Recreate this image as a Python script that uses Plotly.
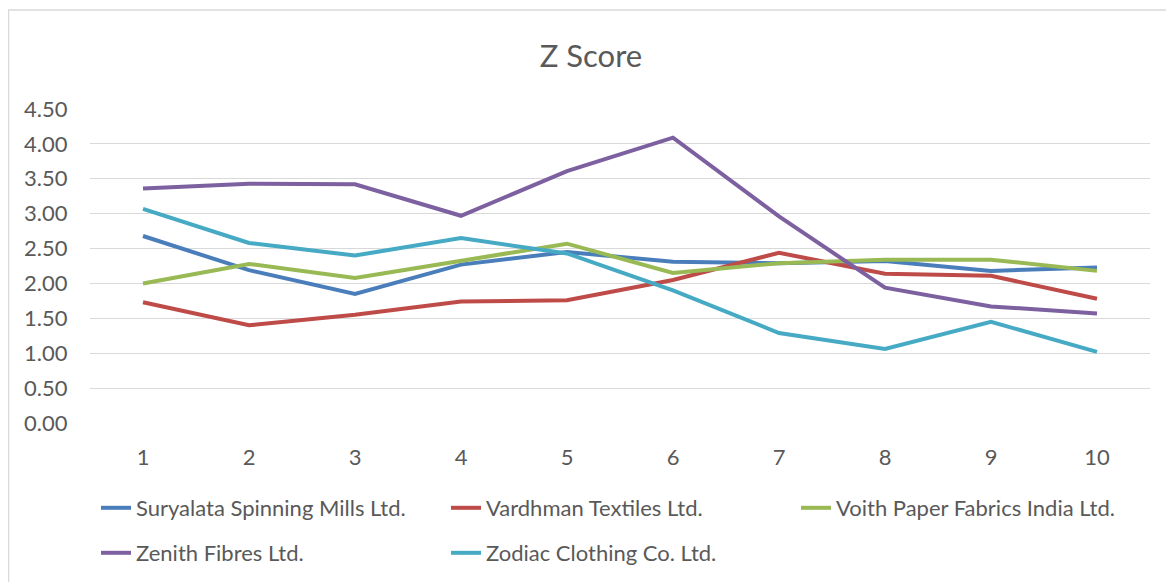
import plotly.graph_objects as go

periods = [1, 2, 3, 4, 5, 6, 7, 8, 9, 10]
suryalata = [2.68, 2.19, 1.85, 2.27, 2.45, 2.31, 2.29, 2.32, 2.18, 2.23]
vardhman = [1.73, 1.40, 1.55, 1.74, 1.76, 2.05, 2.44, 2.14, 2.11, 1.78]
voith = [2.00, 2.28, 2.08, 2.32, 2.57, 2.15, 2.29, 2.34, 2.34, 2.18]
zenith = [3.36, 3.43, 3.42, 2.97, 3.61, 4.09, 2.96, 1.94, 1.67, 1.57]
zodiac = [3.07, 2.58, 2.40, 2.65, 2.43, 1.90, 1.29, 1.06, 1.45, 1.02]

names = ["Suryalata Spinning Mills Ltd.", "Vardhman Textiles Ltd.",
         "Voith Paper Fabrics India Ltd.", "Zenith Fibres Ltd.", "Zodiac Clothing Co. Ltd."]
series = [suryalata, vardhman, voith, zenith, zodiac]
colors = ["#4A7EBB", "#BE4B48", "#98B954", "#7D60A0", "#46AAC5"]
legend_ids = ["legend", "legend", "legend", "legend2", "legend2"]
y_ticks = [0, 0.5, 1, 1.5, 2, 2.5, 3, 3.5, 4, 4.5]

FONT = "Lato"
TXT = "#595959"

# page body has an 8px margin; figure is placed at (8, 8)
W, H = 1166, 574
L, R, T, B = 82, 24, 101, 159
PW, PH = W - L - R, H - T - B  # 1060 x 314

def px_x(x):  # screenshot pixel -> paper x
    return (x - 8 - L) / PW

def px_y(y):  # screenshot pixel -> paper y
    return (T + PH - (y - 8)) / PH

fig = go.Figure()
for name, vals, col, lg in zip(names, series, colors, legend_ids):
    fig.add_trace(go.Scatter(x=periods, y=vals, name=name, mode="lines",
                             line=dict(color=col, width=4), legend=lg))

leg_common = dict(orientation="h", entrywidthmode="pixels", entrywidth=305,
                  font=dict(family=FONT, size=22, color=TXT),
                  bgcolor="rgba(0,0,0,0)", xanchor="left", yanchor="middle",
                  itemclick=False, itemdoubleclick=False)

fig.update_layout(
    width=W, height=H,
    margin=dict(l=L, r=R, t=T, b=B, autoexpand=False),
    paper_bgcolor="white", plot_bgcolor="white",
    title=dict(text="Z Score", x=0.5, xanchor="center", y=1 - (56 - 8) / H, yanchor="middle",
               font=dict(family=FONT, size=31, color=TXT)),
    xaxis=dict(range=[0.5, 10.5], tickvals=periods, ticktext=[str(p) for p in periods],
               showgrid=False, zeroline=False, showline=False,
               ticks="outside", ticklen=0, ticklabelstandoff=15,
               tickfont=dict(family=FONT, size=22, color=TXT)),
    yaxis=dict(range=[0, 4.5], tickvals=y_ticks, ticktext=[f"{v:.2f}" for v in y_ticks],
               showgrid=True, gridcolor="#D9D9D9", gridwidth=1.3,
               zeroline=False, showline=False, ticks="outside", ticklen=0,
               ticklabelstandoff=17,
               tickfont=dict(family=FONT, size=22, color=TXT)),
    legend=dict(x=px_x(96), y=px_y(508), **leg_common),
    legend2=dict(x=px_x(96), y=px_y(553), **leg_common),
    shapes=[dict(type="rect", xref="paper", yref="paper",
                 x0=px_x(8.5), x1=px_x(1190),
                 y0=px_y(600), y1=px_y(10),
                 line=dict(color="#D9D9D9", width=1.5), fillcolor="rgba(0,0,0,0)", layer="below")],
)

fig.write_html("out.html")
